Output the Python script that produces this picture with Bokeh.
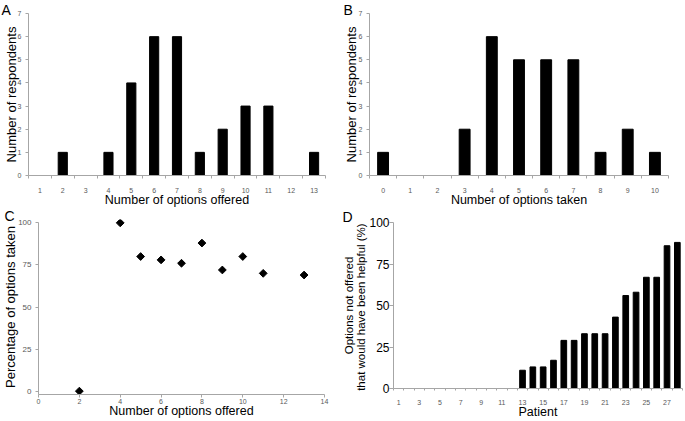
from bokeh.plotting import figure
from bokeh.layouts import column, row
from bokeh.models import FixedTicker, Range1d
from bokeh.embed import file_html
from bokeh.resources import INLINE

# ---- data ----
offered_cats = [1, 2, 3, 4, 5, 6, 7, 8, 9, 10, 11, 12, 13]
offered_counts = [0, 1, 0, 1, 4, 6, 6, 1, 2, 3, 3, 0, 1]

taken_cats = [0, 1, 2, 3, 4, 5, 6, 7, 8, 9, 10]
taken_counts = [1, 0, 0, 2, 6, 5, 5, 5, 1, 2, 1]

scatter_offered = [2, 4, 5, 6, 7, 8, 9, 10, 11, 13]
scatter_pct = [0, 100, 80, 78, 76, 88, 72, 80, 70, 69]

patients = list(range(1, 29))
not_offered_pct = [0, 0, 0, 0, 0, 0, 0, 0, 0, 0, 0, 0,
                   11, 13, 13, 17, 29, 29, 33, 33, 33, 43, 56, 58, 67, 67, 86, 88]

count_ticks = [0, 1, 2, 3, 4, 5, 6, 7]
pct_ticks = [0, 25, 50, 75, 100]
c_x_ticks = [0, 2, 4, 6, 8, 10, 12, 14]
d_x_labels = [1, 3, 5, 7, 9, 11, 13, 15, 17, 19, 21, 23, 25, 27]

GREY = "#a6a6a6"
TICKGREY = "#595959"
FONT = "Liberation Sans"


def base(p, letter, offset, standoff, valign="bottom"):
    p.outline_line_color = None
    p.xgrid.visible = False
    p.ygrid.visible = False
    p.background_fill_color = "white"
    p.border_fill_color = "white"
    for ax in p.axis:
        ax.axis_line_color = GREY
        ax.major_tick_line_color = GREY
        ax.minor_tick_line_color = GREY
        ax.major_tick_in = 0
        ax.minor_tick_in = 0
        ax.minor_tick_out = 0
        ax.major_label_text_font = FONT
        ax.major_label_text_color = TICKGREY
        ax.major_label_text_font_size = "7px"
        ax.major_label_text_line_height = 1.0
        ax.axis_label_text_font = FONT
        ax.axis_label_text_font_style = "normal"
        ax.axis_label_text_color = "black"
        ax.axis_label_text_line_height = 1.0
    p.title.text = letter
    p.title.align = "left"
    p.title.offset = offset
    p.title.standoff = standoff
    p.title.vertical_align = valign
    p.title.text_font = FONT
    p.title.text_font_style = "normal"
    p.title.text_font_size = "14px"
    p.title.text_color = "black"
    p.title.text_line_height = 1.0


def bound_ticks(cats):
    return [c - 0.5 for c in cats] + [cats[-1] + 0.5]


# ---- A ----
pA = figure(width=340, height=209, output_backend="svg", toolbar_location=None,
            x_range=Range1d(offered_cats[0] - 0.5, offered_cats[-1] + 0.5),
            y_range=Range1d(0, 7),
            min_border_left=28, min_border_right=15, min_border_top=13, min_border_bottom=32)
pA.vbar(x=offered_cats, top=offered_counts, width=0.4, color="black")
base(pA, "A", -27, -9)
pA.xaxis.ticker = FixedTicker(ticks=offered_cats, minor_ticks=bound_ticks(offered_cats))
pA.xaxis.major_tick_out = 0
pA.xaxis.minor_tick_out = 3
pA.xaxis.major_label_standoff = 9
pA.xaxis.axis_label = "Number of options offered"
pA.xaxis.axis_label_text_font_size = "12.5px"
pA.xaxis.axis_label_standoff = -3
pA.yaxis.ticker = FixedTicker(ticks=count_ticks)
pA.yaxis.major_tick_out = 3
pA.yaxis.major_label_standoff = 4
pA.yaxis.axis_label = "Number of respondents"
pA.yaxis.axis_label_text_font_size = "13px"
pA.yaxis.axis_label_standoff = -4

# ---- B ----
pB = figure(width=345, height=209, output_backend="svg", toolbar_location=None,
            x_range=Range1d(taken_cats[0] - 0.5, taken_cats[-1] + 0.5),
            y_range=Range1d(0, 7),
            min_border_left=27, min_border_right=17, min_border_top=13, min_border_bottom=32)
pB.vbar(x=taken_cats, top=taken_counts, width=0.4, color="black")
base(pB, "B", -26, -9)
pB.xaxis.ticker = FixedTicker(ticks=taken_cats, minor_ticks=bound_ticks(taken_cats))
pB.xaxis.major_tick_out = 0
pB.xaxis.minor_tick_out = 3
pB.xaxis.major_label_standoff = 9
pB.xaxis.axis_label = "Number of options taken"
pB.xaxis.axis_label_text_font_size = "12.5px"
pB.xaxis.axis_label_standoff = -3
pB.yaxis.ticker = FixedTicker(ticks=count_ticks)
pB.yaxis.major_tick_out = 3
pB.yaxis.major_label_standoff = 4
pB.yaxis.axis_label = "Number of respondents"
pB.yaxis.axis_label_text_font_size = "13px"
pB.yaxis.axis_label_standoff = -3

# ---- C ----
pC = figure(width=340, height=212, output_backend="svg", toolbar_location=None,
            x_range=Range1d(0, 14), y_range=Range1d(-2, 102),
            min_border_left=36, min_border_right=16, min_border_top=10, min_border_bottom=27)
pC.scatter(x=scatter_offered, y=scatter_pct, marker="square", angle=0.785398,
           size=5.5, color="black")
base(pC, "C", -34, -12, valign="top")
pC.xaxis.ticker = FixedTicker(ticks=c_x_ticks)
pC.xaxis.major_tick_out = 3
pC.xaxis.major_label_standoff = 1
pC.xaxis.axis_label = "Number of options offered"
pC.xaxis.axis_label_text_font_size = "12.5px"
pC.xaxis.axis_label_standoff = -3
pC.yaxis.ticker = FixedTicker(ticks=pct_ticks)
pC.yaxis.bounds = (-2, 100)
pC.yaxis.major_tick_out = 3
pC.yaxis.major_label_standoff = 4
pC.yaxis.major_label_text_font_size = "8px"
pC.yaxis.axis_label = "Percentage of options taken"
pC.yaxis.axis_label_text_font_size = "13px"
pC.yaxis.axis_label_standoff = -3

# ---- D ----
pD = figure(width=345, height=212, output_backend="svg", toolbar_location=None,
            x_range=Range1d(patients[0] - 0.5, patients[-1] + 0.5), y_range=Range1d(0, 100),
            min_border_left=52, min_border_right=3, min_border_top=13, min_border_bottom=33)
pD.vbar(x=patients, top=not_offered_pct, width=0.55, color="black")
base(pD, "D", -51, -9, valign="top")
pD.xaxis.ticker = FixedTicker(ticks=d_x_labels, minor_ticks=bound_ticks(patients))
pD.xaxis.major_tick_out = 0
pD.xaxis.minor_tick_out = 2
pD.xaxis.major_label_standoff = 9
pD.xaxis.axis_label = "Patient"
pD.xaxis.axis_label_text_font_size = "12.5px"
pD.xaxis.axis_label_standoff = -3
pD.yaxis.ticker = FixedTicker(ticks=pct_ticks)
pD.yaxis.major_tick_out = 4
pD.yaxis.major_label_standoff = 0
pD.yaxis.major_label_text_font_size = "12px"
pD.yaxis.major_label_text_color = "black"
pD.yaxis.axis_label = "Options not offered\nthat would have been helpful  (%)"
pD.yaxis.axis_label_text_font_size = "11.5px"
pD.yaxis.axis_label_standoff = -1

layout = column(row(column(pA), column(pB)), row(column(pC), column(pD)))

open("out.html", "w").write(file_html(layout, INLINE))
